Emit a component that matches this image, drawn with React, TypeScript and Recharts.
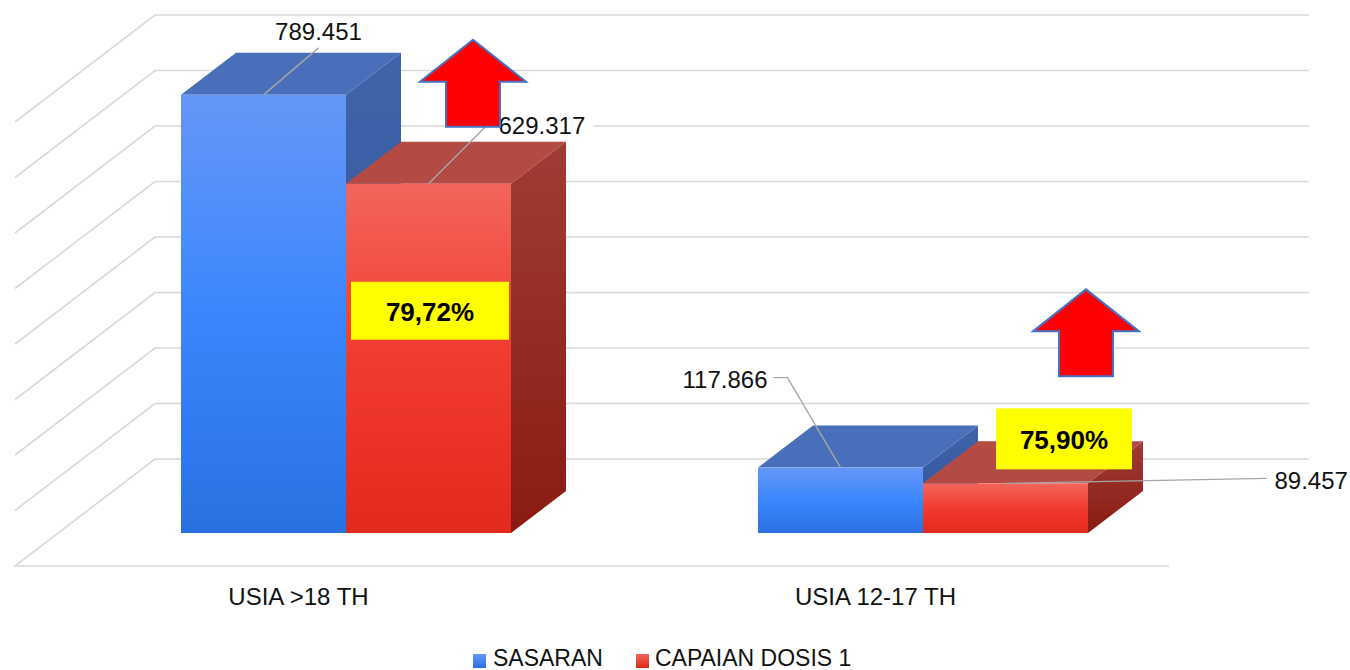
import { Bar, BarChart, CartesianGrid, LabelList, Legend, XAxis, YAxis } from 'recharts'

const CATEGORIES = ['USIA >18 TH', 'USIA 12-17 TH']
const SASARAN = [789451, 117866]
const CAPAIAN = [629317, 89457]
const Y_TICKS = [0, 100000, 200000, 300000, 400000, 500000, 600000, 700000, 800000]
const SERIES = ['SASARAN', 'CAPAIAN DOSIS 1']

const data = CATEGORIES.map((name, i) => ({ name, sasaran: SASARAN[i], capaian: CAPAIAN[i] }))

const W = 1350
const H = 670
const MARGIN = { top: 89, right: 139, bottom: 77, left: 57 }
const AXIS_H = 60
const PLOT_BOTTOM = H - MARGIN.bottom - AXIS_H
const FONT = '"Liberation Sans", Arial, sans-serif'

// oblique 3d offsets, measured from the plane of the bar fronts
const BACK = { dx: 98, dy: -74 }
const FRONT = { dx: -42, dy: 33 }
const DEPTH = { dx: 55, dy: -42 }
const GRID = '#d9d9d9'
const LEADER = '#a6a6a6'

const TONES = {
  blue: { top: '#4a6fba', front: ['#6597f7', '#3b86fd', '#2a70e2'], side: ['#4063aa', '#2f559c'] },
  red: { top: '#b34a44', front: ['#f2655c', '#f23b2f', '#e12a1c'], side: ['#9f3c35', '#8a1b12'] },
}

// label placement, offsets from the middle of each bar top
const SASARAN_LABELS = [
  { pts: [[55, -47]], tx: 55, ty: -63, anchor: 'middle' },
  { pts: [[-53, -90], [-67, -90]], tx: -73, ty: -88, anchor: 'end' },
]
const CAPAIAN_LABELS = [
  { pts: [[58, -58]], tx: 70, ty: -58, anchor: 'start' },
  { pts: [[261, -5]], tx: 269, ty: -3, anchor: 'start' },
]
const PCT_BOX = [
  { dx: 5, dy: 98, w: 158, h: 58 },
  { dx: 73, dy: -75, w: 136, h: 61 },
]
const ARROWS = [
  { dx: 127, dy: -144 },
  { dx: 163, dy: -194 },
]

const fmt = (v: number) => String(v).replace(/\B(?=(\d{3})+(?!\d))/g, '.')
const pct = (i: number) => ((CAPAIAN[i] / SASARAN[i]) * 100).toFixed(2).replace('.', ',') + '%'

function GridLine({ x1, y1, x2 }: any) {
  const by = y1 + BACK.dy
  const fy = y1 + FRONT.dy
  let d = `M${x2 + BACK.dx},${by} L${x1 + BACK.dx},${by} L${x1 + FRONT.dx},${fy}`
  if (Math.abs(y1 - PLOT_BOTTOM) < 1) d += ` L${x2 + FRONT.dx},${fy}`
  return <path d={d} stroke={GRID} strokeWidth={1.6} fill="none" />
}

function Box3D({ x, y, width, height, tone }: any) {
  if (!height || height <= 0) return null
  const c = TONES[tone as 'blue' | 'red']
  const { dx, dy } = DEPTH
  const r = x + width
  return (
    <g>
      <path d={`M${x},${y} L${x + dx},${y + dy} L${r + dx},${y + dy} L${r},${y} Z`} fill={c.top} />
      <path
        d={`M${r},${y} L${r + dx},${y + dy} L${r + dx},${y + height + dy} L${r},${y + height} Z`}
        fill={`url(#side-${tone})`}
      />
      <rect x={x} y={y} width={width} height={height} fill={`url(#front-${tone})`} />
    </g>
  )
}

function box(props: any) {
  const vb = props.viewBox ?? props
  return { x: vb.x ?? props.x, y: vb.y ?? props.y, width: vb.width ?? props.width }
}

function ValueLabel({ x, y, width, value, spec }: any) {
  const sx = x + width / 2
  const sy = y
  const d = `M${sx},${sy}` + spec.pts.map(([a, b]: number[]) => ` L${sx + a},${sy + b}`).join('')
  const txt = fmt(value)
  const tw = txt.length * 13
  const tx = sx + spec.tx
  const ty = sy + spec.ty
  const bx = spec.anchor === 'middle' ? tx - tw / 2 : spec.anchor === 'end' ? tx - tw : tx
  return (
    <g>
      <path d={d} stroke={LEADER} strokeWidth={1.4} fill="none" />
      <rect x={bx - 4} y={ty - 15} width={tw + 8} height={30} fill="#fff" />
      <text x={tx} y={ty} textAnchor={spec.anchor} dominantBaseline="central" fontSize={24} fontFamily={FONT} fill="#111">
        {txt}
      </text>
    </g>
  )
}

function SasaranLabel(props: any) {
  const b = box(props)
  return <ValueLabel {...b} value={props.value} spec={SASARAN_LABELS[props.index]} />
}

function CapaianLabel(props: any) {
  const b = box(props)
  const i = props.index
  const p = PCT_BOX[i]
  const a = ARROWS[i]
  const cx = b.x + a.dx
  const ty = b.y + a.dy
  return (
    <g>
      <ValueLabel {...b} value={props.value} spec={CAPAIAN_LABELS[i]} />
      <rect x={b.x + p.dx} y={b.y + p.dy} width={p.w} height={p.h} fill="#ffff00" />
      <text
        x={b.x + p.dx + p.w / 2}
        y={b.y + p.dy + p.h / 2 + 1}
        textAnchor="middle"
        dominantBaseline="central"
        fontSize={26}
        fontWeight="bold"
        fontFamily={FONT}
        fill="#000"
      >
        {pct(i)}
      </text>
      <path
        d={`M${cx},${ty} L${cx + 53},${ty + 42} L${cx + 27},${ty + 42} L${cx + 27},${ty + 87} L${cx - 27},${ty + 87} L${cx - 27},${ty + 42} L${cx - 53},${ty + 42} Z`}
        fill="#ff0000"
        stroke="#4472c4"
        strokeWidth={2}
      />
    </g>
  )
}

function CatTick({ x, y, payload }: any) {
  return (
    <text x={x - 47} y={y + 55} textAnchor="middle" dominantBaseline="central" fontSize={24} fontFamily={FONT} fill="#111">
      {payload.value}
    </text>
  )
}

function LegendBox() {
  const sq = (tone: 'blue' | 'red') => ({
    width: 13,
    height: 14,
    marginTop: 4,
    background: `linear-gradient(${TONES[tone].front[0]}, ${TONES[tone].front[2]})`,
  })
  return (
    <div style={{ display: 'flex', alignItems: 'center', paddingLeft: 473, fontFamily: FONT, fontSize: 23, color: '#111' }}>
      <div style={sq('blue')} />
      <span style={{ marginLeft: 7, marginRight: 33 }}>{SERIES[0]}</span>
      <div style={sq('red')} />
      <span style={{ marginLeft: 6 }}>{SERIES[1]}</span>
    </div>
  )
}

export default function App() {
  return (
    <div style={{ position: 'absolute', left: 0, top: 0, width: W, height: H, background: '#fff' }}>
      <BarChart width={W} height={H} data={data} margin={MARGIN} barSize={165} barGap={0}>
        <defs>
          {(['blue', 'red'] as const).map((t) => (
            <linearGradient key={`f-${t}`} id={`front-${t}`} x1="0" y1="0" x2="0" y2="1">
              <stop offset="0%" stopColor={TONES[t].front[0]} />
              <stop offset="50%" stopColor={TONES[t].front[1]} />
              <stop offset="100%" stopColor={TONES[t].front[2]} />
            </linearGradient>
          ))}
          {(['blue', 'red'] as const).map((t) => (
            <linearGradient key={`s-${t}`} id={`side-${t}`} x1="0" y1="0" x2="0" y2="1">
              <stop offset="0%" stopColor={TONES[t].side[0]} />
              <stop offset="100%" stopColor={TONES[t].side[1]} />
            </linearGradient>
          ))}
        </defs>
        <CartesianGrid vertical={false} horizontal={(p: any) => <GridLine key={p.key} {...p} />} />
        <XAxis dataKey="name" height={AXIS_H} axisLine={false} tickLine={false} tick={<CatTick />} interval={0} />
        <YAxis hide domain={[0, 800000]} ticks={Y_TICKS} />
        <Legend
          verticalAlign="middle"
          layout="horizontal"
          wrapperStyle={{ left: 0, top: 645, width: W }}
          content={() => <LegendBox />}
        />
        <Bar dataKey="sasaran" name={SERIES[0]} isAnimationActive={false} shape={(p: any) => <Box3D {...p} tone="blue" />}>
          <LabelList dataKey="sasaran" content={(p: any) => <SasaranLabel {...p} />} />
        </Bar>
        <Bar dataKey="capaian" name={SERIES[1]} isAnimationActive={false} shape={(p: any) => <Box3D {...p} tone="red" />}>
          <LabelList dataKey="capaian" content={(p: any) => <CapaianLabel {...p} />} />
        </Bar>
      </BarChart>
    </div>
  )
}
